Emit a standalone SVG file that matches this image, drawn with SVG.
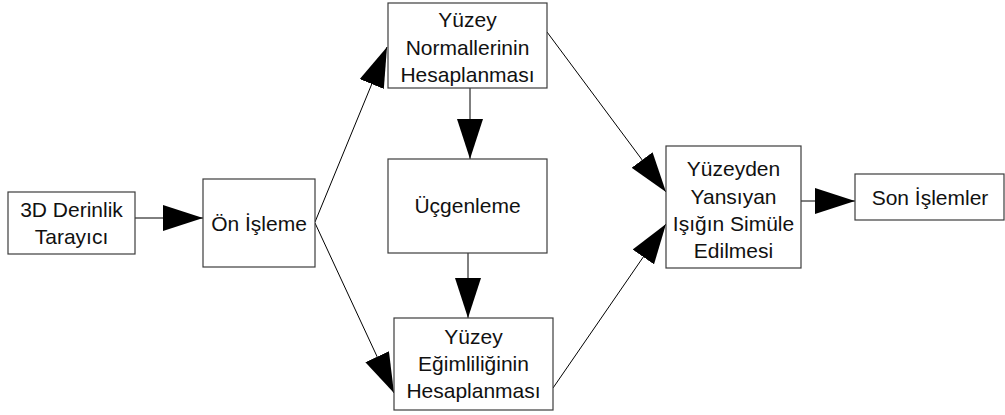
<svg xmlns="http://www.w3.org/2000/svg" width="1005" height="415" viewBox="0 0 1005 415">
<style>
.box{fill:#fff;stroke:#3c3c3c;stroke-width:1.2}
.t{font-family:"Liberation Sans",Arial,sans-serif;font-size:21px;fill:#111;text-anchor:middle}
.c{stroke:#000;stroke-width:1;fill:none;marker-end:url(#ah)}
</style>
<defs>
<marker id="ah" markerUnits="userSpaceOnUse" markerWidth="40" markerHeight="26" refX="40" refY="13" orient="auto" viewBox="0 0 40 26">
<path d="M0,0 L40,13 L0,26 Z" fill="#000"/>
</marker>
</defs>
<rect width="1005" height="415" fill="#fff"/>
<g id="connectors">
<line class="c" x1="135" y1="218" x2="203" y2="218"/>
<line class="c" x1="315" y1="222" x2="387" y2="47"/>
<line class="c" x1="315" y1="223" x2="394" y2="393"/>
<line class="c" x1="470" y1="88" x2="470" y2="159"/>
<line class="c" x1="468" y1="253" x2="468" y2="318"/>
<line class="c" x1="547" y1="32" x2="666" y2="192"/>
<line class="c" x1="553" y1="388" x2="666" y2="224"/>
<line class="c" x1="801" y1="201" x2="855" y2="201"/>
</g>
<g id="tarayici">
<rect class="box" x="8" y="192" width="127" height="62"/>
<text class="t" x="71.5" y="217">3D Derinlik</text>
<text class="t" x="71.5" y="244">Tarayıcı</text>
</g>
<g id="onisleme">
<rect class="box" x="203" y="179" width="112" height="88"/>
<text class="t" x="259" y="231">Ön İşleme</text>
</g>
<g id="normaller">
<rect class="box" x="388" y="3" width="159" height="85"/>
<text class="t" x="467.5" y="27">Yüzey</text>
<text class="t" x="467.5" y="55">Normallerinin</text>
<text class="t" x="467.5" y="82">Hesaplanması</text>
</g>
<g id="ucgenleme">
<rect class="box" x="388" y="159" width="159" height="94"/>
<text class="t" x="467.5" y="213">Üçgenleme</text>
</g>
<g id="egimlilik">
<rect class="box" x="394" y="318" width="159" height="92"/>
<text class="t" x="473.5" y="344">Yüzey</text>
<text class="t" x="473.5" y="371">Eğimliliğinin</text>
<text class="t" x="473.5" y="398">Hesaplanması</text>
</g>
<g id="simulasyon">
<rect class="box" x="666" y="146" width="135" height="122"/>
<text class="t" x="733.5" y="176">Yüzeyden</text>
<text class="t" x="733.5" y="204">Yansıyan</text>
<text class="t" x="733.5" y="231">Işığın Simüle</text>
<text class="t" x="733.5" y="258">Edilmesi</text>
</g>
<g id="sonislemler">
<rect class="box" x="855" y="174" width="149" height="46"/>
<text class="t" x="930" y="205">Son İşlemler</text>
</g>
</svg>
